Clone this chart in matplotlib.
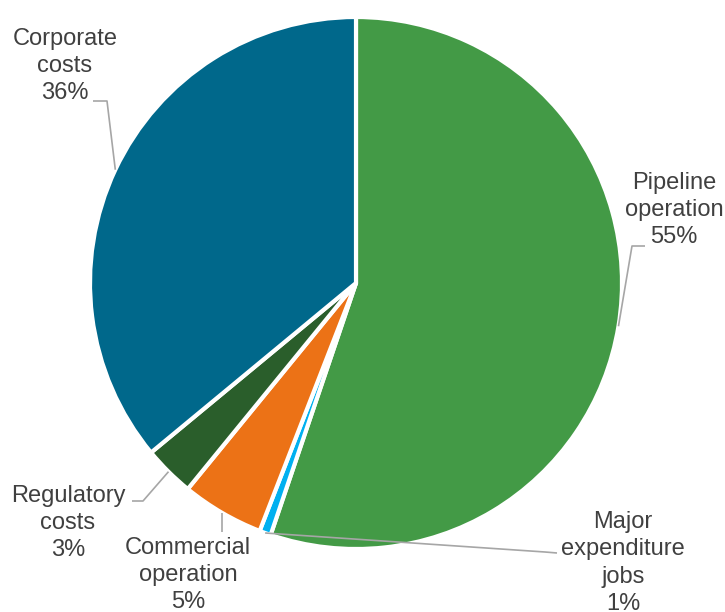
import numpy as np
import matplotlib
matplotlib.use("Agg")
import matplotlib.pyplot as plt

plt.rcParams['font.family'] = ['Liberation Sans', 'DejaVu Sans']

categories = ["Pipeline\noperation", "Major\nexpenditure\njobs", "Commercial\noperation",
              "Regulatory\ncosts", "Corporate\ncosts"]
shares = [55.2, 0.7, 5.0, 3.1, 36.0]
pct_labels = ["55%", "1%", "5%", "3%", "36%"]
colors = ["#439A46", "#00B0F0", "#EC7216", "#2A5E2B", "#00688B"]

W, H = 725, 612
cx, cy, r = 356, H - 283, 266

fig = plt.figure(figsize=(W / 100, H / 100), dpi=100)
ax = fig.add_axes([0, 0, 1, 1])

wedges, _ = ax.pie(shares, colors=colors, startangle=90, counterclock=False,
                   center=(cx, cy), radius=r,
                   wedgeprops=dict(edgecolor="white", linewidth=3))

# label block centres and leader elbows, in pixels from top-left
label_pos = [(674, 210), (623, 563), (188, 575), (68, 523), (65, 66)]
elbows = [[(632, 246), (645, 246)],
          [(545, 552), (557, 553)],
          [],
          [(143, 501), (132, 501)],
          [(107, 101), (93, 101)]]
ends = [None, None, (223, 532), None, None]

for w, name, pct, (lx, ly), elb, end in zip(wedges, categories, pct_labels,
                                             label_pos, elbows, ends):
    ang = np.deg2rad((w.theta1 + w.theta2) / 2)
    sx, sy = cx + r * np.cos(ang), cy + r * np.sin(ang)
    pts = [(sx, sy)]
    for ex, ey in elb:
        pts.append((ex, H - ey))
    if end is not None:
        pts.append((sx, H - end[1]))
    xs, ys = zip(*pts)
    ax.plot(xs, ys, color="#A6A6A6", linewidth=1.2, solid_capstyle="butt")
    ax.text(lx, H - ly, name + "\n" + pct, ha="center", va="center",
            fontsize=17, color="#404040", linespacing=1.32)

ax.set_xlim(0, W)
ax.set_ylim(0, H)
ax.set_aspect("equal")
ax.axis("off")

fig.savefig("out.png", dpi=100)
